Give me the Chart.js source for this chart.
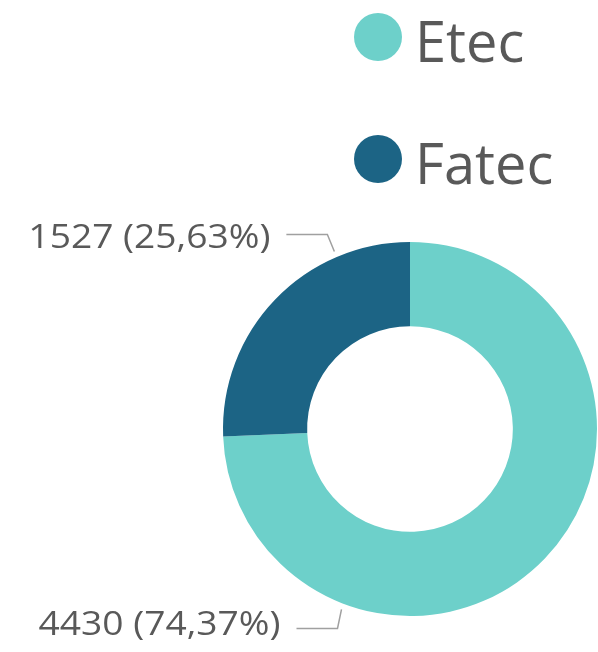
<!DOCTYPE html>
<html>
<head>
<meta charset="utf-8">
<script src="https://cdn.jsdelivr.net/npm/chart.js@4.4.1/dist/chart.umd.min.js"></script>
<style>
html,body{margin:0;padding:0;background:#fff;}
#wrap{width:598px;height:652px;position:relative;}
</style>
</head>
<body>
<div id="wrap"><canvas id="c" width="598" height="652"></canvas></div>
<script>
const categories = ["Etec", "Fatec"];
const values = [4430, 1527];
const percentLabels = ["74,37%", "25,63%"];
const colors = ["#6dd0ca", "#1c6485"];

const textColor = "#595959";
const lineColor = "#a0a0a0";
const fontFamily = "'Open Sans', 'Noto Sans', sans-serif";

const overlay = {
  id: 'overlay',
  afterDraw(chart) {
    const ctx = chart.ctx;
    const meta = chart.getDatasetMeta(0);
    ctx.save();
    // legend
    ctx.font = "56px " + fontFamily;
    ctx.textBaseline = 'alphabetic';
    ctx.textAlign = 'left';
    const legendY = [37, 159];
    categories.forEach((cat, i) => {
      ctx.beginPath();
      ctx.fillStyle = chart.data.datasets[0].backgroundColor[i];
      ctx.arc(378, legendY[i], 24, 0, Math.PI * 2);
      ctx.fill();
      ctx.fillStyle = textColor;
      ctx.fillText(cat, 415, legendY[i] + 25);
    });
    // data labels with leader lines
    ctx.font = "33px " + fontFamily;
    meta.data.forEach((arc, i) => {
      const p = arc.getProps(['x','y','startAngle','endAngle','outerRadius'], true);
      const a = p.startAngle + 0.75 * (p.endAngle - p.startAngle);
      const r = p.outerRadius + 6;
      const px = p.x + Math.cos(a) * r;
      const py = p.y + Math.sin(a) * r;
      const up = Math.sin(a) < 0;
      const ex = px - (up ? 7 : 4);
      const ey = py + (up ? -17 : 19);
      const hx = ex - 41;
      ctx.strokeStyle = lineColor;
      ctx.lineWidth = 1.5;
      ctx.beginPath();
      ctx.moveTo(px, py);
      ctx.lineTo(ex, ey);
      ctx.lineTo(hx, ey);
      ctx.stroke();
      ctx.fillStyle = textColor;
      ctx.textAlign = 'right';
      ctx.textBaseline = 'middle';
      const txt = values[i] + " (" + percentLabels[i] + ")";
      const w = ctx.measureText(txt).width;
      const sx = 242 / w;
      ctx.save();
      ctx.translate(hx - 16, ey + (up ? 4 : -3));
      ctx.scale(sx, 1);
      ctx.fillText(txt, 0, 0);
      ctx.restore();
    });
    ctx.restore();
  }
};

new Chart(document.getElementById('c'), {
  type: 'doughnut',
  data: {
    labels: categories,
    datasets: [{
      data: values,
      backgroundColor: colors,
      borderWidth: 0,
      hoverOffset: 0
    }]
  },
  options: {
    responsive: false,
    animation: false,
    cutout: '55%',
    rotation: 0,
    layout: { padding: { left: 223, right: 1, top: 241, bottom: 35 } },
    plugins: { legend: { display: false }, tooltip: { enabled: false } }
  },
  plugins: [overlay]
});
</script>
</body>
</html>
